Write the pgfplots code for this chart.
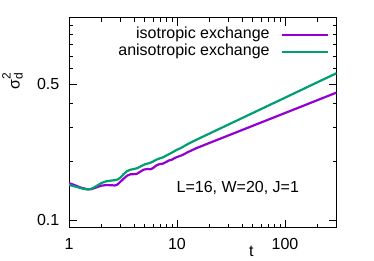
\documentclass[border=0pt]{standalone}
\usepackage{fontspec}
\setmainfont{Liberation Sans}
\usepackage{pgfplots}
\pgfplotsset{compat=1.18}
\definecolor{iso}{HTML}{9400D3}
\definecolor{aniso}{HTML}{009E73}
\begin{document}
\fontsize{16bp}{19bp}\selectfont
\begin{tikzpicture}
\path[use as bounding box] (0,0) rectangle (374bp,261bp);
\begin{axis}[
  at={(69bp,33.3bp)}, anchor=south west, scale only axis,
  width=267.5bp, height=209.9bp,
  xmode=log, ymode=log,
  xmin=1, xmax=300, ymin=0.0912, ymax=1.1,
  xtick={1,10,100}, xticklabels={1,10,100},
  minor xtick={2,3,4,5,6,7,8,9,20,30,40,50,60,70,80,90,200},
  ytick={0.1,0.5}, yticklabels={0.1,0.5},
  minor ytick={0.2,0.3,0.4,0.6,0.7,0.8,0.9,1},
  major tick length=8bp, minor tick length=4bp,
  tick style={black, line width=0.8bp},
  axis line style={line width=1bp},
  xticklabel style={anchor=north, inner sep=0pt, yshift=-10.6bp},
  yticklabel style={anchor=east, inner sep=0pt, xshift=-9.5bp},
  xlabel={t},
  xlabel style={at={(axis description cs:0.682,-0.111)}, anchor=center, inner sep=0pt},
  ylabel={σ\rlap{\raisebox{9bp}{\fontsize{12bp}{12bp}\selectfont 2}}\raisebox{-3bp}{\fontsize{12bp}{12bp}\selectfont d}},
  ylabel style={at={(axis description cs:-0.211,0.70)}, anchor=center, inner sep=0pt},
  legend style={at={(axis description cs:0.972,0.957)}, anchor=north east,
    draw=none, fill=none, inner sep=0pt, column sep=11bp, row sep=0pt,
    nodes={inner sep=0pt, text height=11.5bp, text depth=5.2bp}},
  legend cell align=right,
  legend plot pos=right,
  legend image code/.code={\draw[#1] (0bp,0bp) -- (46bp,0bp);},
]
\addplot[iso, line width=2.2bp, line join=round] coordinates {
(1.0,0.1546) (1.1,0.1520) (1.2,0.1490) (1.3,0.1465) (1.4,0.1450) (1.5,0.1438)
(1.6,0.1440) (1.7,0.1455) (1.85,0.1480) (2.0,0.1502) (2.2,0.1512) (2.45,0.1510)
(2.65,0.1505) (2.8,0.1520) (3.0,0.1575) (3.2,0.1630) (3.45,0.1690) (3.7,0.1718)
(4.0,0.1722) (4.25,0.1728) (4.55,0.1770) (4.9,0.1815) (5.3,0.1830) (5.7,0.1825)
(6.0,0.1850) (6.4,0.1905) (6.9,0.1940) (7.4,0.1950) (7.9,0.1985) (8.4,0.2025)
(8.9,0.2040) (9.4,0.2075) (10.0,0.2110) (10.8,0.2140) (11.6,0.2180) (12.5,0.2230)
(15,0.2339) (20,0.2493) (30,0.2726) (50,0.3051) (70,0.3286) (100,0.3555)
(150,0.3887) (200,0.4143) (300,0.4530)
};
\addlegendentry{isotropic exchange}
\addplot[aniso, line width=2.2bp, line join=round] coordinates {
(1.0,0.1514) (1.1,0.1495) (1.2,0.1475) (1.3,0.1455) (1.4,0.1442) (1.5,0.1436)
(1.6,0.1445) (1.7,0.1470) (1.85,0.1509) (2.0,0.1551) (2.2,0.1580) (2.45,0.1595)
(2.7,0.1605) (2.85,0.1620) (3.0,0.1656) (3.2,0.1720) (3.45,0.1785) (3.7,0.1815)
(4.0,0.1830) (4.3,0.1850) (4.7,0.1898) (5.1,0.1940) (5.5,0.1960) (5.9,0.1990)
(6.4,0.2040) (6.9,0.2074) (7.4,0.2100) (8.0,0.2150) (8.6,0.2195) (9.2,0.2240)
(10.0,0.2300) (11,0.2355) (12.5,0.2455) (15,0.2583) (20,0.2787) (30,0.3102)
(50,0.3550) (70,0.3881) (100,0.4262) (150,0.4746) (200,0.5123) (300,0.5700)
};
\addlegendentry{anisotropic exchange}
\node[anchor=base, inner sep=0pt] at (axis description cs:0.631,0.1667) {L=16, W=20, J=1};
\end{axis}
\end{tikzpicture}
\end{document}
